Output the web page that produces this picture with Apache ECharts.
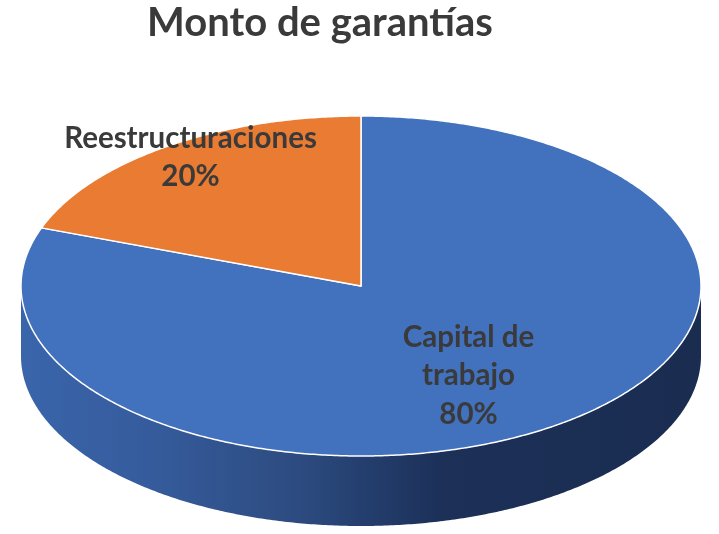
<!DOCTYPE html>
<html>
<head>
<meta charset="utf-8">
<style>html,body{margin:0;padding:0;background:#fff}#c{width:719px;height:534px}</style>
<script src="https://cdn.jsdelivr.net/npm/echarts@6/dist/echarts.min.js"></script>
</head>
<body>
<div id="c"></div>
<script>
const chartTitle = 'Monto de garantías';
const categories = ['Capital de trabajo', 'Reestructuraciones'];
const values = [80, 20];

const FONT = 'Lato, "Noto Sans", sans-serif';
const TEXT = '#3a3a3a';
const colors = ['#4271be', '#ea7b32'];
const layout = { cx: 361, cy: 286, rx: 340, ry: 170, depth: 70, view: 0.893 };
const labelAnchors = [[468.5, 375.5], [190.5, 157.5]];
const wallStops = [
  { offset: 0, color: '#3a65ab' },
  { offset: 0.2, color: '#355b9b' },
  { offset: 0.42, color: '#2c4a7e' },
  { offset: 0.5, color: '#243f6f' },
  { offset: 0.62, color: '#1c3058' },
  { offset: 1, color: '#1a2c50' }
];

const total = values.reduce((a, b) => a + b, 0);
const RAD = Math.PI / 180;
// Slice bounds in degrees clockwise from 12 o'clock.
function bounds(i) {
  let before = 0;
  for (let k = 0; k < i; k++) before += values[k];
  return [before / total * 360, (before + values[i]) / total * 360];
}
// The tilted view slightly compresses angles on screen.
function viewAngle(deg) {
  if (deg >= 360) return 360;
  const t = deg * RAD;
  let out = Math.atan2(Math.sin(t) * layout.view, Math.cos(t)) / RAD;
  if (out < 0) out += 360;
  return out;
}
function rim(deg, dy) {
  const t = deg * RAD;
  return [layout.cx + layout.rx * Math.sin(t), layout.cy - layout.ry * Math.cos(t) + (dy || 0)];
}
function arc(a, b, dy) {
  const pts = [];
  const n = Math.max(2, Math.ceil(Math.abs(b - a) * 2));
  for (let k = 0; k <= n; k++) pts.push(rim(a + (b - a) * k / n, dy));
  return pts;
}

function renderWall(params) {
  const i = params.dataIndex;
  const [a0, a1] = bounds(i).map(viewAngle);
  const a = Math.max(a0, 90), b = Math.min(a1, 270);
  if (b <= a) return null;
  return {
    type: 'polygon',
    shape: { points: arc(a, b, 0).concat(arc(b, a, layout.depth)) },
    style: {
      fill: {
        type: 'linear', global: true,
        x: layout.cx - layout.rx, y: 0, x2: layout.cx + layout.rx, y2: 0,
        colorStops: wallStops
      }
    }
  };
}

function renderTop(params) {
  const i = params.dataIndex;
  const [a0, a1] = bounds(i).map(viewAngle);
  const pct = Math.round(values[i] / total * 100) + '%';
  return {
    type: 'group',
    children: [
      {
        type: 'polygon',
        shape: { points: [[layout.cx, layout.cy]].concat(arc(a0, a1, 0)) },
        style: { fill: colors[i], stroke: '#ffffff', lineWidth: 1.5, lineJoin: 'round' }
      },
      {
        type: 'text',
        z2: 10,
        style: {
          text: categories[i].replace(' de ', ' de\n') + '\n' + pct,
          x: labelAnchors[i][0], y: labelAnchors[i][1],
          align: 'center', verticalAlign: 'middle',
          font: 'bold 29.5px ' + FONT, lineHeight: 38.5, fill: TEXT
        }
      }
    ]
  };
}

const seriesData = categories.map((name, i) => ({ name, value: values[i] }));
const chart = echarts.init(document.getElementById('c'), null, { renderer: 'canvas' });
chart.setOption({
  animation: false,
  backgroundColor: '#ffffff',
  title: {
    text: chartTitle, left: 315, top: -2, textAlign: 'center',
    textStyle: { fontFamily: FONT, fontWeight: 'bold', fontSize: 40, color: TEXT }
  },
  series: [
    { type: 'custom', coordinateSystem: 'none', silent: true, z: 1, data: seriesData, renderItem: renderWall },
    { type: 'custom', coordinateSystem: 'none', silent: true, z: 2, data: seriesData, renderItem: renderTop }
  ]
});
</script>
</body>
</html>
